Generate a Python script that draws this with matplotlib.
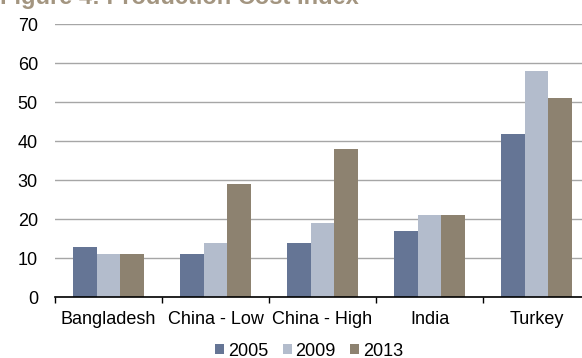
import numpy as np
import matplotlib
matplotlib.use("Agg")
import matplotlib.pyplot as plt
from matplotlib.patches import Patch

plt.rcParams['font.family'] = ['Liberation Sans', 'DejaVu Sans']

# Production cost index by country and year
countries = ["Bangladesh", "China - Low", "China - High", "India", "Turkey"]
years = ["2005", "2009", "2013"]
idx_2005 = [13, 11, 14, 17, 42]
idx_2009 = [11, 14, 19, 21, 58]
idx_2013 = [11, 29, 38, 21, 51]
colors = ["#657595", "#b3bccc", "#8d8270"]

fig = plt.figure(figsize=(5.82, 3.58), dpi=100)
ax = fig.add_axes([55 / 582, 60.7 / 358, 535 / 582, 0.7625])

x = np.arange(len(countries))
w = 0.222
for i, (vals, c) in enumerate(zip([idx_2005, idx_2009, idx_2013], colors)):
    ax.bar(x + (i - 1) * w, vals, width=w, color=c, linewidth=0, zorder=3)

ax.set_xlim(-0.5, len(countries) - 0.5)
ax.set_ylim(0, 70)
ax.set_yticks(range(0, 71, 10))
ax.yaxis.grid(True, color="#a6a6a6", linewidth=1.0, zorder=0)
ax.set_axisbelow(True)

# category boundaries get the tick marks, labels sit in the middle
ax.set_xticks(np.arange(-0.5, len(countries), 1.0))
ax.set_xticklabels([])
ax.set_xticks(x, minor=True)
ax.set_xticklabels(countries, minor=True)
ax.tick_params(axis="x", which="major", length=4.5, width=1.0, color="black", direction="out")
ax.tick_params(axis="x", which="minor", length=0, pad=10, labelsize=13)
ax.tick_params(axis="y", length=0, pad=12.3, labelsize=13)

for s in ["left", "top", "right"]:
    ax.spines[s].set_visible(False)
ax.spines["bottom"].set_color("black")
ax.spines["bottom"].set_linewidth(1.2)
ax.spines["bottom"].set_zorder(4)

handles = [Patch(facecolor=c, edgecolor="none") for c in colors]
fig.legend(handles, years, loc="center", bbox_to_anchor=(309 / 582, 1 - 351 / 358),
           ncol=3, frameon=False, fontsize=13, handlelength=0.5, handleheight=0.5,
           handletextpad=0.2, columnspacing=0.8, borderaxespad=0, borderpad=0)

# heading sits at the very top edge, mostly above the canvas
fig.text(0.0, 1 - 4 / 358, "Figure 4: Production Cost Index", fontsize=17,
         fontweight="bold", color="#a39580", ha="left", va="baseline")

fig.savefig("out.png", dpi=100)
